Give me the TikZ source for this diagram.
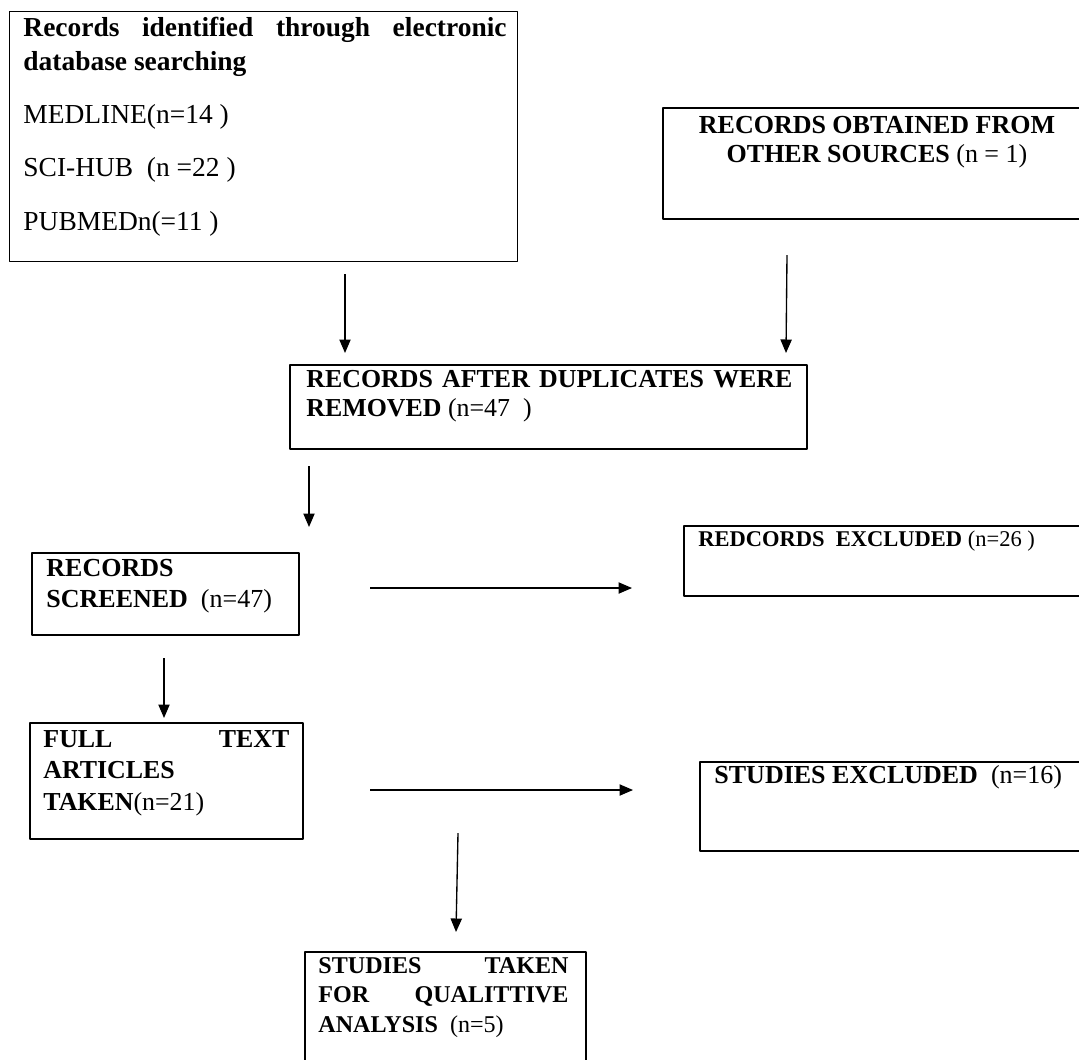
\documentclass[tikz,border=0pt]{standalone}
\usepackage{fontspec}
\setmainfont{Liberation Serif}
\usetikzlibrary{arrows.meta,fit}
\setlength{\parindent}{0pt}
\hyphenpenalty=10000
\tikzset{
	box/.style={draw,line width=0.8pt,inner sep=0pt},
	txt/.style={inner sep=0pt,anchor=north west},
}
\begin{document}
\begin{tikzpicture}[x=0.4444pt,y=-0.4444pt,line join=round,>={Triangle[length=6pt,width=5pt]}]
	\useasboundingbox (0,0) rectangle (1079,1059);
	% boxes
	\node[box,fit={(9.5,11.5) (517.5,261.5)}] (search) {};
	\node[box,fit={(663,108) (1100,219)}] (other) {};
	\node[box,fit={(290,365) (807,449)}] (dedup) {};
	\node[box,fit={(32,553) (299,635)}] (screen) {};
	\node[box,fit={(684,526) (1100,596)}] (recexcl) {};
	\node[box,fit={(30,723) (303,839)}] (full) {};
	\node[box,fit={(700,762) (1100,851)}] (stexcl) {};
	\node[box,fit={(305,952) (586,1100)}] (final) {};
	% texts
	\node[txt,text width=214.7pt,align=justify,font=\fontsize{12.2}{15.1}\selectfont] (search-t) at (23,17)
		{\textbf{Records identified through electronic}\linebreak\textbf{database searching}\par\vspace{8.5pt}
		MEDLINE(n=14 )\par\vspace{8.5pt}
		SCI-HUB\ \ (n =22 )\par\vspace{8.5pt}
		PUBMEDn(=11 )};
	\node[txt,anchor=north,align=center,font=\fontsize{11.55}{12.9}\selectfont] (other-t) at (877,115.5)
		{\textbf{RECORDS OBTAINED FROM}\\\textbf{OTHER SOURCES} (n = 1)};
	\node[txt,text width=216pt,align=justify,font=\fontsize{11.5}{12.9}\selectfont] (dedup-t) at (306,370)
		{\textbf{RECORDS AFTER DUPLICATES WERE}\linebreak\textbf{REMOVED} (n=47\ \ )};
	\node[txt,align=left,font=\fontsize{11.55}{13.8}\selectfont] (screen-t) at (46,558.5)
		{\textbf{RECORDS}\\\textbf{SCREENED}\ \ (n=47)};
	\node[txt,font=\fontsize{10}{12}\selectfont] (recexcl-t) at (698,530.8)
		{\textbf{REDCORDS\ \ EXCLUDED} (n=26 )};
	\node[txt,text width=109.3pt,align=justify,font=\fontsize{11.5}{13.8}\selectfont] (full-t) at (43,730.5)
		{\textbf{FULL TEXT}\linebreak\textbf{ARTICLES}\newline\textbf{TAKEN}(n=21)};
	\node[txt,font=\fontsize{11.55}{13.8}\selectfont] (stexcl-t) at (714,765.4)
		{\textbf{STUDIES EXCLUDED}\ \ (n=16)};
	\node[txt,text width=111.1pt,align=justify,font=\fontsize{10.7}{13.1}\selectfont] (final-t) at (318,956.8)
		{\textbf{STUDIES TAKEN}\linebreak\textbf{FOR QUALITTIVE}\linebreak\textbf{ANALYSIS}\ \ (n=5)};
	% arrows
	\coordinate (a1) at (345,274); \coordinate (a2) at (345,353);
	\coordinate (b1) at (787,255); \coordinate (b2) at (786,353);
	\coordinate (c1) at (309,466); \coordinate (c2) at (309,527);
	\coordinate (d1) at (164,658); \coordinate (d2) at (164,718);
	\coordinate (e1) at (370,588); \coordinate (e2) at (632,588);
	\coordinate (f1) at (370,790); \coordinate (f2) at (633,790);
	\coordinate (g1) at (458,833); \coordinate (g2) at (456,932);
	\foreach \p/\q in {a1/a2,b1/b2,c1/c2,d1/d2,e1/e2,f1/f2,g1/g2}
	\draw[->,line width=0.6pt] (\p)--(\q);
\end{tikzpicture}
\end{document}
